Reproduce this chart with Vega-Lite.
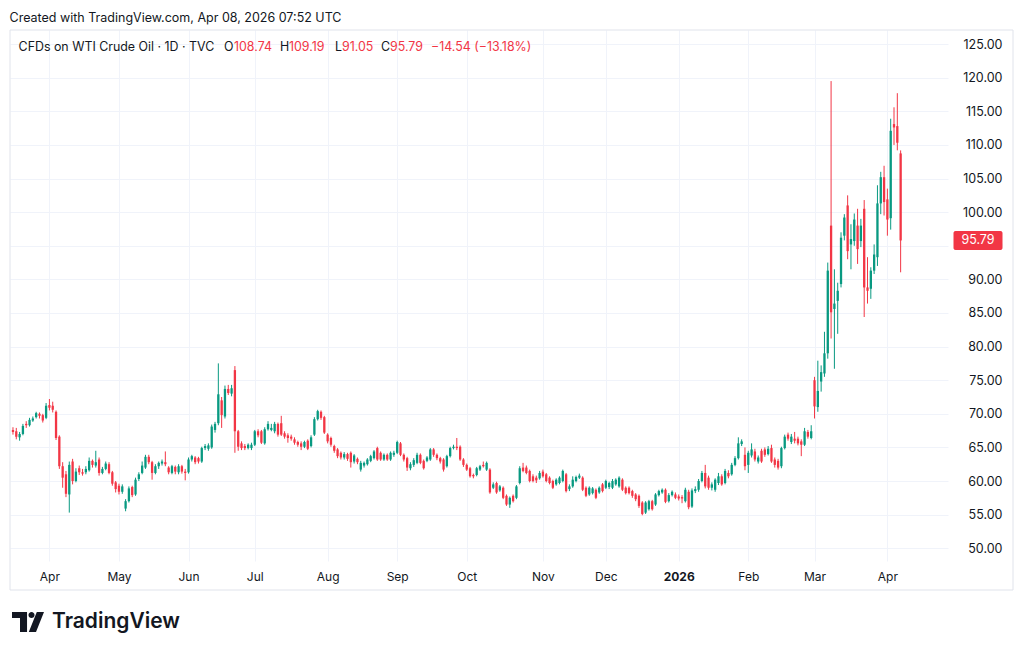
{
  "$schema": "https://vega.github.io/schema/vega-lite/v6.json",
  "width": 938,
  "height": 531,
  "autosize": {"type": "none"},
  "padding": {"left": 10, "top": 30, "right": 76, "bottom": 92},
  "background": "#ffffff",
  "title": {
    "text": "Created with TradingView.com, Apr 08, 2026 07:52 UTC",
    "anchor": "start", "font": "Inter", "fontSize": 12.5, "fontWeight": "normal",
    "color": "#131722", "offset": 5
  },
  "data": {
    "values": [
      {"d":"2025-03-17","o":67.6,"h":68.0,"l":66.9,"c":67.3},
      {"d":"2025-03-18","o":67.4,"h":67.9,"l":66.2,"c":66.6},
      {"d":"2025-03-19","o":66.5,"h":67.3,"l":66.0,"c":67.0},
      {"d":"2025-03-20","o":67.0,"h":68.5,"l":66.8,"c":68.2},
      {"d":"2025-03-21","o":68.5,"h":68.9,"l":67.9,"c":68.3},
      {"d":"2025-03-24","o":68.3,"h":69.4,"l":68.1,"c":69.1},
      {"d":"2025-03-25","o":69.0,"h":69.6,"l":68.8,"c":69.3},
      {"d":"2025-03-26","o":69.5,"h":70.3,"l":69.3,"c":70.1},
      {"d":"2025-03-27","o":70.0,"h":70.2,"l":69.3,"c":69.7},
      {"d":"2025-03-28","o":69.8,"h":70.0,"l":68.7,"c":69.0},
      {"d":"2025-03-31","o":69.4,"h":71.6,"l":69.2,"c":71.2},
      {"d":"2025-04-01","o":71.3,"h":72.2,"l":70.5,"c":70.9},
      {"d":"2025-04-02","o":71.2,"h":71.8,"l":70.2,"c":70.6},
      {"d":"2025-04-03","o":70.3,"h":70.5,"l":66.1,"c":66.4},
      {"d":"2025-04-04","o":66.6,"h":66.8,"l":61.8,"c":62.2},
      {"d":"2025-04-07","o":62.2,"h":62.8,"l":59.0,"c":60.5},
      {"d":"2025-04-08","o":61.0,"h":61.5,"l":57.6,"c":58.1},
      {"d":"2025-04-09","o":58.0,"h":62.9,"l":55.3,"c":62.4},
      {"d":"2025-04-10","o":62.9,"h":63.3,"l":59.5,"c":60.0},
      {"d":"2025-04-11","o":60.0,"h":61.9,"l":59.8,"c":61.4},
      {"d":"2025-04-14","o":61.9,"h":62.3,"l":60.9,"c":61.3},
      {"d":"2025-04-15","o":61.3,"h":61.8,"l":60.8,"c":61.1},
      {"d":"2025-04-16","o":61.3,"h":62.2,"l":61.0,"c":61.8},
      {"d":"2025-04-17","o":61.6,"h":63.5,"l":61.4,"c":63.0},
      {"d":"2025-04-21","o":63.0,"h":63.2,"l":62.0,"c":62.4},
      {"d":"2025-04-22","o":62.3,"h":64.5,"l":62.0,"c":62.8},
      {"d":"2025-04-23","o":63.2,"h":63.5,"l":60.8,"c":61.2},
      {"d":"2025-04-24","o":61.2,"h":62.1,"l":61.0,"c":61.8},
      {"d":"2025-04-25","o":61.8,"h":62.9,"l":61.6,"c":62.6},
      {"d":"2025-04-28","o":62.5,"h":62.8,"l":61.0,"c":61.2},
      {"d":"2025-04-29","o":61.3,"h":61.5,"l":59.3,"c":59.6},
      {"d":"2025-04-30","o":59.8,"h":60.0,"l":58.3,"c":58.8},
      {"d":"2025-05-01","o":59.3,"h":59.6,"l":58.0,"c":58.4},
      {"d":"2025-05-02","o":58.4,"h":59.5,"l":58.1,"c":59.2},
      {"d":"2025-05-05","o":55.9,"h":57.3,"l":55.5,"c":57.0},
      {"d":"2025-05-06","o":57.0,"h":59.2,"l":56.8,"c":58.9},
      {"d":"2025-05-07","o":59.1,"h":59.3,"l":57.6,"c":57.9},
      {"d":"2025-05-08","o":58.0,"h":60.5,"l":57.8,"c":60.2},
      {"d":"2025-05-09","o":60.3,"h":61.3,"l":60.0,"c":61.0},
      {"d":"2025-05-12","o":61.2,"h":62.9,"l":61.0,"c":62.3},
      {"d":"2025-05-13","o":62.0,"h":63.9,"l":61.8,"c":63.6},
      {"d":"2025-05-14","o":63.6,"h":63.9,"l":62.5,"c":62.8},
      {"d":"2025-05-15","o":62.8,"h":63.0,"l":60.2,"c":61.2},
      {"d":"2025-05-16","o":61.2,"h":62.5,"l":61.0,"c":62.2},
      {"d":"2025-05-19","o":62.2,"h":62.9,"l":61.8,"c":62.7},
      {"d":"2025-05-20","o":62.6,"h":63.2,"l":62.3,"c":62.9},
      {"d":"2025-05-21","o":62.8,"h":64.4,"l":62.2,"c":62.5},
      {"d":"2025-05-22","o":62.0,"h":62.2,"l":61.0,"c":61.3},
      {"d":"2025-05-23","o":61.2,"h":62.4,"l":61.0,"c":62.2},
      {"d":"2025-05-27","o":62.1,"h":62.3,"l":61.0,"c":61.4},
      {"d":"2025-05-28","o":61.3,"h":62.5,"l":61.0,"c":62.2},
      {"d":"2025-05-29","o":62.2,"h":62.4,"l":61.1,"c":61.4},
      {"d":"2025-05-30","o":61.4,"h":61.8,"l":60.1,"c":61.2},
      {"d":"2025-06-02","o":61.3,"h":63.5,"l":61.1,"c":63.2},
      {"d":"2025-06-03","o":63.2,"h":63.9,"l":62.9,"c":63.7},
      {"d":"2025-06-04","o":63.5,"h":63.7,"l":62.5,"c":62.8},
      {"d":"2025-06-05","o":63.4,"h":63.6,"l":62.6,"c":62.9},
      {"d":"2025-06-06","o":62.9,"h":65.1,"l":62.7,"c":64.9},
      {"d":"2025-06-09","o":64.9,"h":65.5,"l":64.6,"c":65.2},
      {"d":"2025-06-10","o":64.8,"h":65.6,"l":64.5,"c":65.3},
      {"d":"2025-06-11","o":65.0,"h":68.4,"l":64.8,"c":68.1},
      {"d":"2025-06-12","o":67.6,"h":68.8,"l":67.2,"c":68.5},
      {"d":"2025-06-13","o":68.6,"h":77.5,"l":68.3,"c":72.9},
      {"d":"2025-06-16","o":72.0,"h":72.5,"l":67.9,"c":69.8},
      {"d":"2025-06-17","o":69.6,"h":74.2,"l":69.3,"c":73.7},
      {"d":"2025-06-18","o":73.7,"h":74.3,"l":72.8,"c":73.1},
      {"d":"2025-06-20","o":73.0,"h":74.3,"l":72.6,"c":73.8},
      {"d":"2025-06-23","o":76.5,"h":77.1,"l":64.2,"c":67.4},
      {"d":"2025-06-24","o":67.4,"h":67.6,"l":64.5,"c":65.1},
      {"d":"2025-06-25","o":65.6,"h":65.9,"l":64.6,"c":64.9},
      {"d":"2025-06-26","o":65.2,"h":65.5,"l":64.6,"c":64.9},
      {"d":"2025-06-27","o":64.9,"h":65.6,"l":64.7,"c":65.4},
      {"d":"2025-06-30","o":64.9,"h":65.7,"l":64.6,"c":65.4},
      {"d":"2025-07-01","o":65.4,"h":67.6,"l":65.2,"c":67.4},
      {"d":"2025-07-02","o":67.4,"h":67.7,"l":66.5,"c":66.8},
      {"d":"2025-07-03","o":67.4,"h":67.6,"l":65.5,"c":65.7},
      {"d":"2025-07-07","o":65.6,"h":68.0,"l":65.4,"c":67.7},
      {"d":"2025-07-08","o":67.7,"h":68.9,"l":67.5,"c":68.5},
      {"d":"2025-07-09","o":67.6,"h":68.5,"l":67.4,"c":67.9},
      {"d":"2025-07-10","o":67.4,"h":68.8,"l":67.1,"c":68.5},
      {"d":"2025-07-11","o":68.5,"h":68.7,"l":66.6,"c":66.9},
      {"d":"2025-07-14","o":68.6,"h":69.7,"l":66.7,"c":66.9},
      {"d":"2025-07-15","o":67.1,"h":67.4,"l":66.3,"c":66.6},
      {"d":"2025-07-16","o":66.8,"h":67.1,"l":65.7,"c":66.4},
      {"d":"2025-07-17","o":66.6,"h":66.9,"l":66.0,"c":66.3},
      {"d":"2025-07-18","o":66.2,"h":66.5,"l":65.4,"c":65.7},
      {"d":"2025-07-21","o":65.8,"h":66.0,"l":65.1,"c":65.4},
      {"d":"2025-07-22","o":65.6,"h":65.9,"l":64.6,"c":65.1},
      {"d":"2025-07-23","o":65.1,"h":66.0,"l":64.9,"c":65.8},
      {"d":"2025-07-24","o":66.0,"h":66.2,"l":64.6,"c":64.8},
      {"d":"2025-07-25","o":65.2,"h":66.8,"l":65.0,"c":66.5},
      {"d":"2025-07-28","o":66.9,"h":69.5,"l":66.7,"c":69.2},
      {"d":"2025-07-29","o":69.2,"h":70.6,"l":69.0,"c":70.4},
      {"d":"2025-07-30","o":70.3,"h":70.5,"l":69.1,"c":69.4},
      {"d":"2025-07-31","o":69.5,"h":69.7,"l":67.0,"c":67.2},
      {"d":"2025-08-01","o":66.9,"h":67.1,"l":65.6,"c":65.9},
      {"d":"2025-08-04","o":66.4,"h":66.6,"l":65.1,"c":65.4},
      {"d":"2025-08-05","o":65.2,"h":65.4,"l":64.2,"c":64.5},
      {"d":"2025-08-06","o":64.7,"h":64.9,"l":63.4,"c":63.7},
      {"d":"2025-08-07","o":64.2,"h":64.4,"l":63.2,"c":63.5},
      {"d":"2025-08-08","o":63.5,"h":64.3,"l":63.2,"c":64.0},
      {"d":"2025-08-11","o":64.0,"h":64.2,"l":63.0,"c":63.3},
      {"d":"2025-08-12","o":64.2,"h":64.4,"l":62.0,"c":62.8},
      {"d":"2025-08-13","o":62.9,"h":64.0,"l":62.6,"c":63.8},
      {"d":"2025-08-14","o":63.3,"h":63.5,"l":62.5,"c":62.8},
      {"d":"2025-08-15","o":61.7,"h":63.0,"l":61.4,"c":62.7},
      {"d":"2025-08-18","o":62.3,"h":62.9,"l":62.0,"c":62.7},
      {"d":"2025-08-19","o":62.5,"h":63.4,"l":62.3,"c":63.2},
      {"d":"2025-08-20","o":63.0,"h":63.9,"l":62.8,"c":63.7},
      {"d":"2025-08-21","o":63.4,"h":64.6,"l":63.2,"c":64.4},
      {"d":"2025-08-22","o":64.9,"h":65.1,"l":63.0,"c":63.2},
      {"d":"2025-08-25","o":64.2,"h":64.4,"l":63.0,"c":63.2},
      {"d":"2025-08-26","o":63.2,"h":64.1,"l":63.0,"c":63.9},
      {"d":"2025-08-27","o":63.9,"h":64.1,"l":63.0,"c":63.2},
      {"d":"2025-08-28","o":63.2,"h":64.4,"l":63.0,"c":64.2},
      {"d":"2025-08-29","o":63.9,"h":64.5,"l":63.6,"c":64.2},
      {"d":"2025-09-02","o":64.2,"h":66.0,"l":64.0,"c":65.8},
      {"d":"2025-09-03","o":65.6,"h":65.8,"l":63.7,"c":63.9},
      {"d":"2025-09-04","o":63.9,"h":64.1,"l":62.9,"c":63.2},
      {"d":"2025-09-05","o":63.4,"h":63.6,"l":61.5,"c":62.0},
      {"d":"2025-09-08","o":61.9,"h":62.8,"l":61.6,"c":62.5},
      {"d":"2025-09-09","o":62.4,"h":63.4,"l":62.1,"c":63.1},
      {"d":"2025-09-10","o":62.7,"h":64.2,"l":62.5,"c":63.9},
      {"d":"2025-09-11","o":63.9,"h":64.1,"l":62.5,"c":62.7},
      {"d":"2025-09-12","o":63.0,"h":63.2,"l":61.7,"c":61.9},
      {"d":"2025-09-15","o":63.0,"h":63.7,"l":62.8,"c":63.5},
      {"d":"2025-09-16","o":63.2,"h":64.9,"l":63.0,"c":64.7},
      {"d":"2025-09-17","o":64.7,"h":64.9,"l":63.6,"c":63.9},
      {"d":"2025-09-18","o":63.9,"h":64.1,"l":63.1,"c":63.4},
      {"d":"2025-09-19","o":63.4,"h":63.6,"l":62.6,"c":62.9},
      {"d":"2025-09-22","o":63.2,"h":63.4,"l":61.4,"c":61.7},
      {"d":"2025-09-23","o":62.2,"h":63.9,"l":62.0,"c":63.7},
      {"d":"2025-09-24","o":63.7,"h":65.1,"l":63.5,"c":64.9},
      {"d":"2025-09-25","o":64.9,"h":65.4,"l":64.7,"c":65.1},
      {"d":"2025-09-26","o":65.1,"h":66.4,"l":64.6,"c":64.9},
      {"d":"2025-09-29","o":65.1,"h":65.3,"l":63.0,"c":63.2},
      {"d":"2025-09-30","o":63.2,"h":63.4,"l":62.1,"c":62.4},
      {"d":"2025-10-01","o":62.4,"h":62.6,"l":61.5,"c":61.7},
      {"d":"2025-10-02","o":61.9,"h":62.1,"l":60.5,"c":60.7},
      {"d":"2025-10-03","o":60.9,"h":61.1,"l":60.4,"c":60.7},
      {"d":"2025-10-06","o":60.9,"h":62.1,"l":60.7,"c":61.9},
      {"d":"2025-10-07","o":61.7,"h":62.4,"l":61.5,"c":62.2},
      {"d":"2025-10-08","o":62.4,"h":62.9,"l":62.0,"c":62.2},
      {"d":"2025-10-09","o":61.7,"h":62.9,"l":61.5,"c":62.7},
      {"d":"2025-10-10","o":61.7,"h":61.9,"l":58.1,"c":58.3},
      {"d":"2025-10-13","o":59.0,"h":59.8,"l":58.8,"c":59.5},
      {"d":"2025-10-14","o":59.7,"h":59.9,"l":58.1,"c":58.3},
      {"d":"2025-10-15","o":58.6,"h":59.4,"l":58.4,"c":59.2},
      {"d":"2025-10-16","o":59.0,"h":59.2,"l":57.3,"c":57.5},
      {"d":"2025-10-17","o":57.8,"h":58.0,"l":56.3,"c":56.5},
      {"d":"2025-10-20","o":56.5,"h":57.7,"l":56.0,"c":57.5},
      {"d":"2025-10-21","o":57.8,"h":58.0,"l":56.8,"c":57.0},
      {"d":"2025-10-22","o":57.5,"h":59.4,"l":57.3,"c":59.2},
      {"d":"2025-10-23","o":59.7,"h":62.2,"l":59.5,"c":61.9},
      {"d":"2025-10-24","o":62.0,"h":62.7,"l":61.3,"c":61.5},
      {"d":"2025-10-27","o":62.0,"h":62.3,"l":61.0,"c":61.2},
      {"d":"2025-10-28","o":61.5,"h":61.7,"l":59.8,"c":60.0},
      {"d":"2025-10-29","o":60.7,"h":61.0,"l":59.8,"c":60.0},
      {"d":"2025-10-30","o":60.5,"h":60.8,"l":59.7,"c":60.1},
      {"d":"2025-10-31","o":60.4,"h":61.5,"l":60.2,"c":61.2},
      {"d":"2025-11-03","o":61.4,"h":61.7,"l":60.5,"c":60.7},
      {"d":"2025-11-04","o":61.0,"h":61.2,"l":59.8,"c":60.0},
      {"d":"2025-11-05","o":60.5,"h":60.7,"l":59.5,"c":59.7},
      {"d":"2025-11-06","o":60.0,"h":60.2,"l":58.8,"c":59.0},
      {"d":"2025-11-07","o":59.5,"h":60.4,"l":59.3,"c":60.2},
      {"d":"2025-11-10","o":59.7,"h":60.7,"l":59.5,"c":60.5},
      {"d":"2025-11-11","o":60.0,"h":61.7,"l":59.8,"c":61.5},
      {"d":"2025-11-12","o":61.0,"h":61.2,"l":58.3,"c":58.5},
      {"d":"2025-11-13","o":58.8,"h":59.5,"l":58.5,"c":59.2},
      {"d":"2025-11-14","o":59.2,"h":60.7,"l":59.0,"c":60.2},
      {"d":"2025-11-17","o":60.0,"h":60.8,"l":59.8,"c":60.6},
      {"d":"2025-11-18","o":60.5,"h":61.1,"l":60.3,"c":60.8},
      {"d":"2025-11-19","o":60.5,"h":60.7,"l":58.5,"c":58.7},
      {"d":"2025-11-20","o":59.0,"h":59.2,"l":57.6,"c":57.8},
      {"d":"2025-11-21","o":58.0,"h":59.2,"l":57.8,"c":59.0},
      {"d":"2025-11-24","o":58.2,"h":59.1,"l":58.0,"c":58.9},
      {"d":"2025-11-25","o":58.7,"h":58.9,"l":57.3,"c":57.5},
      {"d":"2025-11-26","o":58.3,"h":59.2,"l":58.1,"c":59.0},
      {"d":"2025-11-28","o":59.5,"h":59.7,"l":58.3,"c":58.5},
      {"d":"2025-12-01","o":59.0,"h":60.2,"l":58.8,"c":60.0},
      {"d":"2025-12-02","o":59.1,"h":59.9,"l":58.8,"c":59.7},
      {"d":"2025-12-03","o":59.0,"h":60.3,"l":58.8,"c":60.0},
      {"d":"2025-12-04","o":59.5,"h":60.4,"l":59.3,"c":60.2},
      {"d":"2025-12-05","o":59.2,"h":60.7,"l":59.0,"c":60.5},
      {"d":"2025-12-08","o":60.2,"h":60.4,"l":58.5,"c":58.7},
      {"d":"2025-12-09","o":59.0,"h":59.2,"l":58.0,"c":58.2},
      {"d":"2025-12-10","o":59.0,"h":59.2,"l":58.0,"c":58.2},
      {"d":"2025-12-11","o":58.5,"h":58.7,"l":57.5,"c":57.8},
      {"d":"2025-12-12","o":58.0,"h":58.2,"l":57.0,"c":57.3},
      {"d":"2025-12-15","o":57.8,"h":58.0,"l":56.0,"c":56.3},
      {"d":"2025-12-16","o":56.8,"h":57.0,"l":54.9,"c":55.1},
      {"d":"2025-12-17","o":55.3,"h":57.0,"l":55.1,"c":56.8},
      {"d":"2025-12-18","o":55.8,"h":57.2,"l":55.6,"c":57.0},
      {"d":"2025-12-19","o":57.0,"h":57.2,"l":55.6,"c":55.8},
      {"d":"2025-12-22","o":56.5,"h":58.2,"l":56.3,"c":58.0},
      {"d":"2025-12-23","o":57.9,"h":58.7,"l":57.7,"c":58.5},
      {"d":"2025-12-24","o":58.3,"h":58.9,"l":58.1,"c":58.7},
      {"d":"2025-12-26","o":58.7,"h":58.9,"l":56.7,"c":56.9},
      {"d":"2025-12-29","o":57.0,"h":58.2,"l":56.8,"c":57.9},
      {"d":"2025-12-30","o":57.9,"h":58.6,"l":57.7,"c":58.4},
      {"d":"2025-12-31","o":58.0,"h":58.3,"l":57.3,"c":57.5},
      {"d":"2026-01-02","o":57.7,"h":58.0,"l":57.1,"c":57.4},
      {"d":"2026-01-05","o":57.6,"h":57.9,"l":56.7,"c":57.4},
      {"d":"2026-01-06","o":57.0,"h":59.0,"l":56.8,"c":58.7},
      {"d":"2026-01-07","o":58.4,"h":58.7,"l":55.8,"c":56.1},
      {"d":"2026-01-08","o":56.2,"h":58.9,"l":56.0,"c":58.6},
      {"d":"2026-01-09","o":58.5,"h":59.2,"l":58.2,"c":58.8},
      {"d":"2026-01-12","o":58.7,"h":60.3,"l":58.4,"c":60.0},
      {"d":"2026-01-13","o":60.0,"h":61.5,"l":59.8,"c":61.2},
      {"d":"2026-01-14","o":61.2,"h":62.4,"l":58.9,"c":59.2},
      {"d":"2026-01-15","o":60.5,"h":60.8,"l":58.7,"c":59.0},
      {"d":"2026-01-16","o":59.0,"h":59.8,"l":58.6,"c":59.5},
      {"d":"2026-01-19","o":58.7,"h":60.4,"l":58.4,"c":60.2},
      {"d":"2026-01-20","o":59.7,"h":61.2,"l":59.4,"c":60.7},
      {"d":"2026-01-21","o":60.7,"h":61.0,"l":59.3,"c":59.5},
      {"d":"2026-01-22","o":59.7,"h":61.8,"l":59.5,"c":61.5},
      {"d":"2026-01-23","o":61.2,"h":61.6,"l":60.4,"c":60.7},
      {"d":"2026-01-26","o":61.0,"h":62.7,"l":60.8,"c":62.4},
      {"d":"2026-01-27","o":62.4,"h":63.7,"l":62.2,"c":63.4},
      {"d":"2026-01-28","o":63.4,"h":66.5,"l":63.2,"c":65.6},
      {"d":"2026-01-29","o":65.5,"h":66.2,"l":65.2,"c":65.9},
      {"d":"2026-01-30","o":63.9,"h":65.0,"l":61.6,"c":62.2},
      {"d":"2026-02-02","o":62.4,"h":64.5,"l":61.2,"c":64.2},
      {"d":"2026-02-03","o":63.8,"h":65.6,"l":63.5,"c":64.7},
      {"d":"2026-02-04","o":64.4,"h":64.8,"l":62.9,"c":63.2},
      {"d":"2026-02-05","o":62.9,"h":63.8,"l":62.6,"c":63.5},
      {"d":"2026-02-06","o":64.5,"h":64.8,"l":62.7,"c":62.9},
      {"d":"2026-02-09","o":64.7,"h":65.0,"l":63.6,"c":63.9},
      {"d":"2026-02-10","o":64.0,"h":65.2,"l":63.8,"c":64.8},
      {"d":"2026-02-11","o":64.9,"h":65.4,"l":62.7,"c":62.9},
      {"d":"2026-02-12","o":63.2,"h":63.5,"l":62.0,"c":62.4},
      {"d":"2026-02-13","o":63.0,"h":63.3,"l":61.7,"c":62.0},
      {"d":"2026-02-16","o":62.2,"h":65.1,"l":61.9,"c":64.9},
      {"d":"2026-02-17","o":64.9,"h":66.9,"l":64.7,"c":66.6},
      {"d":"2026-02-18","o":66.9,"h":67.2,"l":66.0,"c":66.3},
      {"d":"2026-02-19","o":65.8,"h":67.0,"l":65.5,"c":66.6},
      {"d":"2026-02-20","o":66.3,"h":67.3,"l":65.6,"c":66.0},
      {"d":"2026-02-23","o":66.3,"h":66.6,"l":65.3,"c":65.6},
      {"d":"2026-02-24","o":65.9,"h":66.2,"l":63.7,"c":65.4},
      {"d":"2026-02-25","o":65.4,"h":67.9,"l":65.2,"c":67.4},
      {"d":"2026-02-26","o":67.3,"h":67.6,"l":66.3,"c":66.6},
      {"d":"2026-02-27","o":66.4,"h":68.3,"l":66.2,"c":67.4},
      {"d":"2026-03-02","o":75.0,"h":75.5,"l":69.3,"c":71.1},
      {"d":"2026-03-03","o":71.0,"h":77.9,"l":70.3,"c":73.4},
      {"d":"2026-03-04","o":74.8,"h":77.2,"l":73.3,"c":76.2},
      {"d":"2026-03-05","o":76.0,"h":82.2,"l":75.5,"c":79.0},
      {"d":"2026-03-06","o":79.0,"h":92.5,"l":78.2,"c":91.3},
      {"d":"2026-03-09","o":98.0,"h":119.5,"l":81.2,"c":85.1},
      {"d":"2026-03-10","o":85.6,"h":91.5,"l":76.7,"c":86.4},
      {"d":"2026-03-11","o":86.8,"h":89.5,"l":81.9,"c":88.3},
      {"d":"2026-03-12","o":89.3,"h":97.0,"l":88.8,"c":96.2},
      {"d":"2026-03-13","o":96.5,"h":99.7,"l":95.8,"c":99.2},
      {"d":"2026-03-16","o":101.0,"h":102.5,"l":93.0,"c":94.2},
      {"d":"2026-03-17","o":95.2,"h":98.2,"l":91.5,"c":96.0},
      {"d":"2026-03-18","o":95.7,"h":99.8,"l":95.0,"c":98.9},
      {"d":"2026-03-19","o":98.0,"h":100.5,"l":92.3,"c":94.5},
      {"d":"2026-03-20","o":95.7,"h":99.0,"l":94.8,"c":98.0},
      {"d":"2026-03-23","o":100.5,"h":101.8,"l":84.4,"c":88.8},
      {"d":"2026-03-24","o":88.8,"h":93.3,"l":86.4,"c":88.3},
      {"d":"2026-03-25","o":88.6,"h":91.8,"l":87.1,"c":91.3},
      {"d":"2026-03-26","o":91.3,"h":95.2,"l":90.8,"c":93.7},
      {"d":"2026-03-27","o":93.3,"h":104.0,"l":92.0,"c":101.3},
      {"d":"2026-03-30","o":101.3,"h":106.0,"l":99.7,"c":105.2},
      {"d":"2026-03-31","o":105.2,"h":106.9,"l":99.5,"c":101.5},
      {"d":"2026-04-01","o":101.9,"h":103.5,"l":96.5,"c":98.9},
      {"d":"2026-04-02","o":99.1,"h":113.9,"l":97.4,"c":112.1},
      {"d":"2026-04-06","o":113.1,"h":115.6,"l":110.0,"c":112.6},
      {"d":"2026-04-07","o":112.8,"h":117.7,"l":109.2,"c":110.33},
      {"d":"2026-04-08","o":108.74,"h":109.19,"l":91.05,"c":95.79}
    ]
  },
  "transform": [{"window": [{"op": "row_number", "as": "i"}], "sort": [{"field": "d"}]}],
  "layer": [
    {
      "data": {"values": [{}]},
      "mark": {"type": "rect", "x": 0, "x2": 1003, "y": 0, "y2": 560, "filled": false, "fill": null, "stroke": "#E0E3EB", "strokeWidth": 1}
    },
    {
      "mark": {"type": "rule", "strokeWidth": 1},
      "encoding": {
        "x": {
          "field": "i", "type": "quantitative",
          "scale": {"domain": [0.1, 283.3], "nice": false, "zero": false, "padding": 0},
          "axis": {
            "values": [12, 33, 54, 74, 96, 117, 138, 161, 180, 202, 223, 243, 265],
            "labelExpr": "['Apr','May','Jun','Jul','Aug','Sep','Oct','Nov','Dec','2026','Feb','Mar','Apr'][indexof([12,33,54,74,96,117,138,161,180,202,223,243,265], datum.value)]",
            "labelFontWeight": {"condition": {"test": "datum.value == 202", "value": "bold"}, "value": "normal"},
            "grid": true, "gridColor": "#F0F3FA", "domain": false, "ticks": false,
            "labelPadding": 10, "labelFontSize": 12, "labelColor": "#131722",
            "labelFlush": false, "labelOverlap": false, "title": null
          }
        },
        "y": {
          "field": "l", "type": "quantitative",
          "scale": {"domain": [48.1, 127.1], "nice": false, "zero": false, "padding": 0},
          "axis": {
            "orient": "right",
            "values": [50, 55, 60, 65, 70, 75, 80, 85, 90, 95, 100, 105, 110, 115, 120, 125],
            "tickCount": 16,
            "format": ".2f", "grid": true, "gridColor": "#F0F3FA", "domain": false, "ticks": false,
            "labelAlign": "right", "labelPadding": 54, "labelFontSize": 12.5, "labelColor": "#131722",
            "labelOverlap": false, "title": null
          }
        },
        "y2": {"field": "h"},
        "color": {"condition": {"test": "datum.c >= datum.o", "value": "#089981"}, "value": "#F23645"}
      }
    },
    {
      "mark": {"type": "bar", "size": 2.3},
      "encoding": {
        "x": {"field": "i", "type": "quantitative"},
        "y": {
          "field": "o", "type": "quantitative",
          "axis": {
            "orient": "right",
            "values": [50, 55, 60, 65, 70, 75, 80, 85, 90, 95, 100, 105, 110, 115, 120, 125],
            "tickCount": 16,
            "format": ".2f", "grid": true, "gridColor": "#F0F3FA", "domain": false, "ticks": false,
            "labelAlign": "right", "labelPadding": 54, "labelFontSize": 12.5, "labelColor": "#131722",
            "labelOverlap": false, "title": null
          }
        },
        "y2": {"field": "c"},
        "color": {"condition": {"test": "datum.c >= datum.o", "value": "#089981"}, "value": "#F23645"}
      }
    },
    {
      "transform": [{"filter": "datum.c == 95.79"}],
      "mark": {"type": "tick", "orient": "horizontal", "size": 49, "thickness": 19, "cornerRadius": 2, "color": "#F23645", "opacity": 1},
      "encoding": {
        "x": {"value": 968},
        "y": {
          "field": "c", "type": "quantitative",
          "axis": {
            "orient": "right",
            "values": [50, 55, 60, 65, 70, 75, 80, 85, 90, 95, 100, 105, 110, 115, 120, 125],
            "tickCount": 16,
            "format": ".2f", "grid": true, "gridColor": "#F0F3FA", "domain": false, "ticks": false,
            "labelAlign": "right", "labelPadding": 54, "labelFontSize": 12.5, "labelColor": "#131722",
            "labelOverlap": false, "title": null
          }
        }
      }
    },
    {
      "transform": [{"filter": "datum.c == 95.79"}],
      "mark": {"type": "text", "color": "#ffffff", "fontSize": 12.5, "align": "center", "baseline": "middle"},
      "encoding": {
        "x": {"value": 968},
        "y": {
          "field": "c", "type": "quantitative",
          "axis": {
            "orient": "right",
            "values": [50, 55, 60, 65, 70, 75, 80, 85, 90, 95, 100, 105, 110, 115, 120, 125],
            "tickCount": 16,
            "format": ".2f", "grid": true, "gridColor": "#F0F3FA", "domain": false, "ticks": false,
            "labelAlign": "right", "labelPadding": 54, "labelFontSize": 12.5, "labelColor": "#131722",
            "labelOverlap": false, "title": null
          }
        },
        "text": {"field": "c", "type": "quantitative", "format": ".2f"}
      }
    },
    {"data": {"values": [{}]}, "mark": {"type": "text", "text": "CFDs on WTI Crude Oil · 1D · TVC", "x": 8.6, "y": 17, "align": "left", "baseline": "middle", "fontSize": 12.4, "color": "#131722"}},
    {"data": {"values": [{}]}, "mark": {"type": "text", "text": "O", "x": 214, "y": 17, "align": "left", "baseline": "middle", "fontSize": 12.4, "color": "#131722"}},
    {"data": {"values": [{}]}, "mark": {"type": "text", "text": "108.74", "x": 224, "y": 17, "align": "left", "baseline": "middle", "fontSize": 12.4, "color": "#F23645"}},
    {"data": {"values": [{}]}, "mark": {"type": "text", "text": "H", "x": 270, "y": 17, "align": "left", "baseline": "middle", "fontSize": 12.4, "color": "#131722"}},
    {"data": {"values": [{}]}, "mark": {"type": "text", "text": "109.19", "x": 279, "y": 17, "align": "left", "baseline": "middle", "fontSize": 12.4, "color": "#F23645"}},
    {"data": {"values": [{}]}, "mark": {"type": "text", "text": "L", "x": 325, "y": 17, "align": "left", "baseline": "middle", "fontSize": 12.4, "color": "#131722"}},
    {"data": {"values": [{}]}, "mark": {"type": "text", "text": "91.05", "x": 332, "y": 17, "align": "left", "baseline": "middle", "fontSize": 12.4, "color": "#F23645"}},
    {"data": {"values": [{}]}, "mark": {"type": "text", "text": "C", "x": 371, "y": 17, "align": "left", "baseline": "middle", "fontSize": 12.4, "color": "#131722"}},
    {"data": {"values": [{}]}, "mark": {"type": "text", "text": "95.79", "x": 380, "y": 17, "align": "left", "baseline": "middle", "fontSize": 12.4, "color": "#F23645"}},
    {"data": {"values": [{}]}, "mark": {"type": "text", "text": "−14.54 (−13.18%)", "x": 421, "y": 17, "align": "left", "baseline": "middle", "fontSize": 12.4, "color": "#F23645"}},
    {
      "data": {"values": [{}]},
      "mark": {
        "type": "point",
        "shape": "M-1,-0.625H-0.06V0.625H-0.5V-0.25H-1Z M0.03,-0.44A0.19,0.19 0 1 0 0.41,-0.44A0.19,0.19 0 1 0 0.03,-0.44Z M0.55,-0.625L1,-0.625L0.5,0.625L0.05,0.625Z",
        "size": 1024, "filled": true, "color": "#131722", "opacity": 1, "strokeWidth": 0,
        "x": 18, "y": 592
      }
    },
    {"data": {"values": [{}]}, "mark": {"type": "text", "text": "TradingView", "x": 42, "y": 592, "align": "left", "baseline": "middle", "fontSize": 21, "fontWeight": 600, "color": "#131722"}}
  ],
  "config": {"view": {"stroke": null}, "font": "Inter"}
}
